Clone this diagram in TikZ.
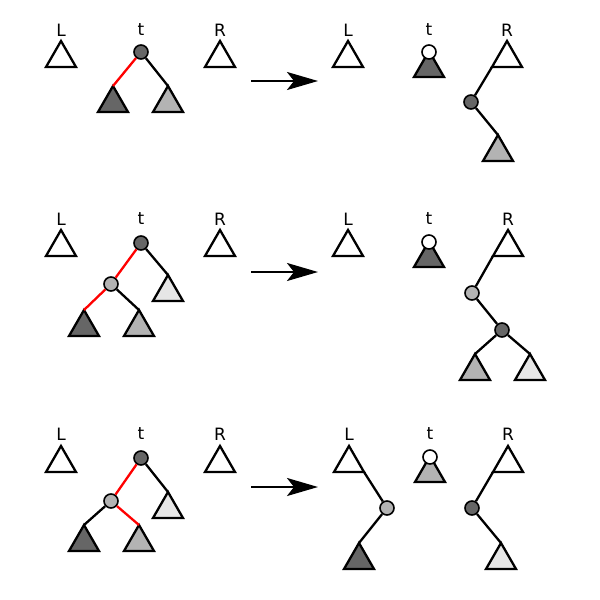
\documentclass[tikz,border=0pt]{standalone}
\usepackage{fontspec}
\setmainfont{DejaVu Sans}
\usetikzlibrary{arrows.meta}
\definecolor{dunkel}{RGB}{102,102,102}
\definecolor{mittel}{RGB}{179,179,179}
\definecolor{hell}{RGB}{230,230,230}
\definecolor{rot}{RGB}{255,0,0}

\begin{document}
\begin{tikzpicture}[x=1pt,y=-1pt,
  baum/.style={draw, line width=2.3pt},
  kante/.style={line width=2.3pt},
  knoten/.style={circle, draw, line width=1.6pt, minimum size=14pt, inner sep=0pt},
  beschr/.style={font=\fontsize{17}{20}\selectfont, inner sep=0pt},
  pfeil/.style={line width=2.3pt, -{Stealth[length=31pt, width=18pt, inset=7pt]}}]
\useasboundingbox (0,0) rectangle (600,600);

%Dreieck mit Spitze bei #2, Ecken #1-l und #1-r
\newcommand\dreieck[3]{\path[baum, fill=#3] #2 coordinate (#1) -- ++(-15,26) coordinate (#1-l) -- ++(30,0) coordinate (#1-r) -- cycle;}

%Zeile oben links
\node[beschr] (L1) at (61,30) {L};
\node[beschr] (T1) at (141,30) {t};
\node[beschr] (R1) at (220,30) {R};
\dreieck{L1b}{(61,41)}{white}
\dreieck{R1b}{(220,41)}{white}
\dreieck{a1}{(113,86)}{dunkel}
\dreieck{b1}{(168,86)}{mittel}
\node[knoten, fill=dunkel] (t1) at (141,52) {};
\draw[kante, rot] (t1) -- (a1);
\draw[kante] (t1) -- (b1);

%Pfeil oben
\coordinate (p1a) at (251,81);
\coordinate (p1b) at (318,81);
\draw[pfeil] (p1a) -- (p1b);

%Zeile oben rechts
\node[beschr] (L1r) at (348,30) {L};
\node[beschr] (T1r) at (429,30) {t};
\node[beschr] (R1r) at (507,30) {R};
\dreieck{L1rb}{(348,41)}{white}
\dreieck{R1rb}{(507,41)}{white}
\dreieck{a1r}{(429,51)}{dunkel}
\node[knoten, fill=white] (t1r) at (429,52) {};
\dreieck{b1r}{(498,135)}{mittel}
\node[knoten, fill=dunkel] (u1r) at (471,102) {};
\draw[kante] (R1rb-l) -- (u1r);
\draw[kante] (u1r) -- (b1r);

%Zeile Mitte links
\node[beschr] (L2) at (61,219) {L};
\node[beschr] (T2) at (141,219) {t};
\node[beschr] (R2) at (220,219) {R};
\dreieck{L2b}{(61,230)}{white}
\dreieck{R2b}{(220,230)}{white}
\dreieck{c2}{(168,275)}{hell}
\dreieck{a2}{(84,310)}{dunkel}
\dreieck{b2}{(139,310)}{mittel}
\node[knoten, fill=dunkel] (t2) at (141,243) {};
\node[knoten, fill=mittel] (m2) at (111,284) {};
\draw[kante, rot] (t2) -- (m2);
\draw[kante, rot] (m2) -- (a2);
\draw[kante] (t2) -- (c2);
\draw[kante] (m2) -- (b2);

%Pfeil Mitte
\coordinate (p2a) at (251,272);
\coordinate (p2b) at (318,272);
\draw[pfeil] (p2a) -- (p2b);

%Zeile Mitte rechts
\node[beschr] (L2r) at (348,219) {L};
\node[beschr] (T2r) at (429,219) {t};
\node[beschr] (R2r) at (508,219) {R};
\dreieck{L2rb}{(348,230)}{white}
\dreieck{R2rb}{(508,230)}{white}
\dreieck{a2r}{(429,241)}{dunkel}
\node[knoten, fill=white] (t2r) at (429,242) {};
\dreieck{b2r}{(475,354)}{mittel}
\dreieck{c2r}{(530,354)}{hell}
\node[knoten, fill=mittel] (m2r) at (472,293) {};
\node[knoten, fill=dunkel] (u2r) at (502,330) {};
\draw[kante] (R2rb-l) -- (m2r);
\draw[kante] (m2r) -- (u2r);
\draw[kante] (u2r) -- (b2r);
\draw[kante] (u2r) -- (c2r);

%Zeile unten links
\node[beschr] (L3) at (61,434) {L};
\node[beschr] (T3) at (141,434) {t};
\node[beschr] (R3) at (220,434) {R};
\dreieck{L3b}{(61,446)}{white}
\dreieck{R3b}{(220,446)}{white}
\dreieck{c3}{(168,492)}{hell}
\dreieck{a3}{(84,525)}{dunkel}
\dreieck{b3}{(139,525)}{mittel}
\node[knoten, fill=dunkel] (t3) at (141,458) {};
\node[knoten, fill=mittel] (m3) at (111,501) {};
\draw[kante, rot] (t3) -- (m3);
\draw[kante, rot] (m3) -- (b3);
\draw[kante] (t3) -- (c3);
\draw[kante] (m3) -- (a3);

%Pfeil unten
\coordinate (p3a) at (251,487);
\coordinate (p3b) at (318,487);
\draw[pfeil] (p3a) -- (p3b);

%Zeile unten rechts
\node[beschr] (L3r) at (349,434) {L};
\node[beschr] (T3r) at (430,434) {t};
\node[beschr] (R3r) at (508,434) {R};
\dreieck{L3rb}{(349,446)}{white}
\dreieck{R3rb}{(508,446)}{white}
\dreieck{b3r}{(430,456)}{mittel}
\node[knoten, fill=white] (t3r) at (430,457) {};
\dreieck{a3r}{(359,543)}{dunkel}
\dreieck{c3r}{(501,543)}{hell}
\node[knoten, fill=mittel] (m3r) at (387,508) {};
\node[knoten, fill=dunkel] (u3r) at (472,508) {};
\draw[kante] (L3rb-r) -- (m3r);
\draw[kante] (m3r) -- (a3r);
\draw[kante] (R3rb-l) -- (u3r);
\draw[kante] (u3r) -- (c3r);

\end{tikzpicture}
\end{document}
